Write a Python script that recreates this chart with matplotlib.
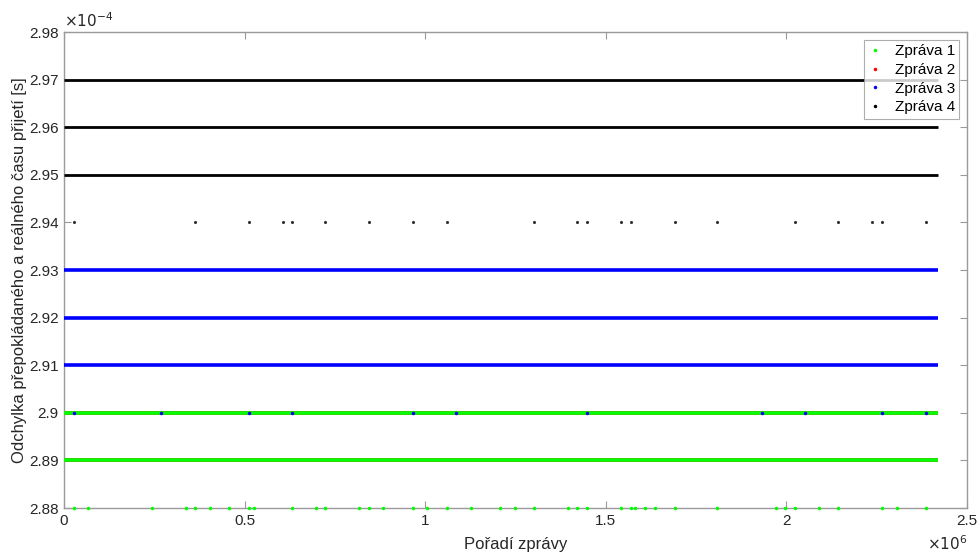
import matplotlib
matplotlib.use("Agg")
import matplotlib.pyplot as plt
from matplotlib.ticker import FuncFormatter

plt.rcParams["font.family"] = ["Liberation Sans", "DejaVu Sans"]

# Deviation levels are in units of 1e-4 s, message order in units of 1e6
x_end = 2.42

# levels filled densely over the whole run, per message
zprava1_levels = [2.89, 2.90]
zprava2_levels = [2.89, 2.90]
zprava3_levels = [2.91, 2.92, 2.93]
zprava4_levels = [2.95, 2.96, 2.97]

# sparse outliers of each message
zprava1_sparse_x = [0.028, 0.066, 0.243, 0.337, 0.362, 0.403, 0.456, 0.511, 0.525,
                    0.630, 0.699, 0.724, 0.818, 0.845, 0.884, 0.967, 1.006, 1.061,
                    1.127, 1.207, 1.249, 1.301, 1.395, 1.420, 1.448, 1.541, 1.569,
                    1.580, 1.608, 1.635, 1.691, 1.809, 1.970, 1.997, 2.025, 2.091,
                    2.144, 2.265, 2.307, 2.387]
zprava1_sparse_y = 2.88
zprava3_sparse_x = [0.028, 0.268, 0.511, 0.630, 0.967, 1.086, 1.448, 1.931, 2.052,
                    2.265, 2.387]
zprava3_sparse_y = 2.90
zprava4_sparse_x = [0.028, 0.362, 0.511, 0.605, 0.630, 0.724, 0.845, 0.967, 1.061,
                    1.301, 1.420, 1.448, 1.541, 1.569, 1.691, 1.809, 2.025, 2.144,
                    2.238, 2.265, 2.387]
zprava4_sparse_y = 2.94

labels = ["Zpráva 1", "Zpráva 2", "Zpráva 3", "Zpráva 4"]
colors = ["#00ff00", "#ff0000", "#0000ff", "#000000"]

fig = plt.figure(figsize=(9.78, 5.54), dpi=100)
ax = fig.add_axes([0.0654, 0.083, 0.9234, 0.859])

# red lies underneath green, draw it first
ax.hlines(zprava2_levels, 0, x_end, color=colors[1], lw=2.6, zorder=2)
ax.hlines(zprava1_levels, 0, x_end, color=colors[0], lw=2.6, zorder=3)
ax.hlines(zprava3_levels, 0, x_end, color=colors[2], lw=2.6, zorder=3)
ax.hlines(zprava4_levels, 0, x_end, color=colors[3], lw=2.0, zorder=3)

ax.plot(zprava1_sparse_x, [zprava1_sparse_y] * len(zprava1_sparse_x), ".",
        color=colors[0], ms=3, zorder=4, clip_on=False)
ax.plot(zprava3_sparse_x, [zprava3_sparse_y] * len(zprava3_sparse_x), ".",
        color=colors[2], ms=3, zorder=4)
ax.plot(zprava4_sparse_x, [zprava4_sparse_y] * len(zprava4_sparse_x), ".",
        color="#333333", ms=2.5, zorder=4)

# legend proxies
for lab, c in zip(labels, colors):
    ax.plot([], [], ".", color=c, ms=3, label=lab)

ax.set_xlim(0, 2.5)
ax.set_ylim(2.88, 2.98)
ax.set_xticks([0, 0.5, 1, 1.5, 2, 2.5])
ax.set_yticks([2.88 + 0.01 * i for i in range(11)])
fmt = FuncFormatter(lambda v, p: "%g" % round(v, 4))
ax.xaxis.set_major_formatter(fmt)
ax.yaxis.set_major_formatter(fmt)

axis_gray = "#9a9a9a"
text_gray = "#262626"
for s in ax.spines.values():
    s.set_color(axis_gray)
    s.set_linewidth(1.0)
ax.tick_params(direction="in", length=5, width=0.8, color=axis_gray,
               labelcolor=text_gray, labelsize=11, top=True, right=True, pad=4)

ax.set_xlabel("Pořadí zprávy", fontsize=12, color=text_gray, labelpad=7)
ax.set_ylabel("Odchylka přepokládaného a reálného času přijetí [s]", fontsize=12,
              color=text_gray, labelpad=1)

ax.text(0.0, 1.004, r"$\times10^{-4}$", transform=ax.transAxes, fontsize=11,
        color=text_gray, ha="left", va="bottom")
ax.text(1.0, -0.074, r"$\times10^{6}$", transform=ax.transAxes, fontsize=11,
        color=text_gray, ha="right", va="center")

leg = ax.legend(loc="upper right", fontsize=11, frameon=True, fancybox=False,
                edgecolor=axis_gray, handlelength=0.8, handletextpad=0.9,
                borderpad=0.3, labelspacing=0.3, borderaxespad=0.5,
                markerscale=1.0)
leg.get_frame().set_linewidth(0.8)

fig.savefig("out.png", dpi=100, facecolor="white")
